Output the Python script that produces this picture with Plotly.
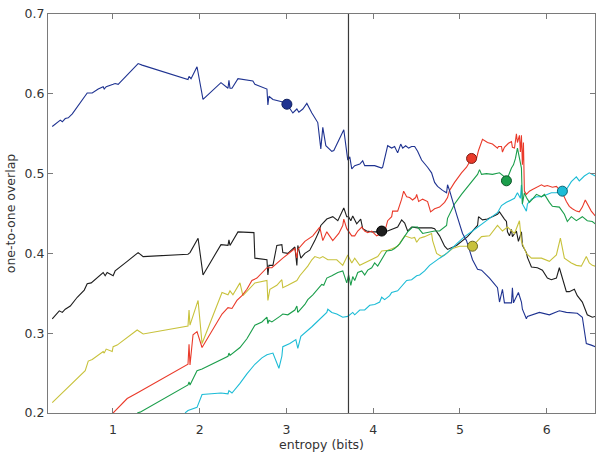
import plotly.graph_objects as go

# ---------------- data ----------------
blue_x = [0.301,0.394,0.417,0.451,0.486,0.532,0.704,0.762,0.831,0.888,0.900,0.923,1.003,1.026,1.061,1.291,1.337,1.866,1.878,1.901,1.970,2.039,2.246,2.327,2.338,2.350,2.373,2.442,2.614,2.637,2.776,2.787,2.799,2.845,2.948,3.006,3.075,3.121,3.144,3.190,3.236,3.294,3.362,3.397,3.420,3.455,3.524,3.547,3.662,3.696,3.708,3.731,3.754,3.788,3.846,3.880,3.903,3.961,4.018,4.099,4.110,4.168,4.214,4.248,4.283,4.318,4.341,4.375,4.410,4.444,4.479,4.513,4.559,4.628,4.674,4.709,4.743,4.801,4.847,4.858,4.881,4.962,5.031,5.077,5.146,5.204,5.250,5.342,5.434,5.457,5.491,5.514,5.595,5.606,5.618,5.675,5.710,5.721,5.767,5.779,5.917,6.032,6.147,6.228,6.354,6.412,6.458,6.515,6.561]
blue_y = [0.559,0.567,0.565,0.569,0.570,0.575,0.601,0.601,0.606,0.609,0.606,0.609,0.612,0.613,0.612,0.638,0.636,0.618,0.622,0.619,0.634,0.593,0.614,0.607,0.617,0.607,0.607,0.619,0.616,0.612,0.606,0.586,0.597,0.593,0.590,0.587,0.576,0.581,0.577,0.581,0.588,0.576,0.564,0.531,0.558,0.535,0.528,0.529,0.555,0.523,0.517,0.521,0.506,0.510,0.512,0.516,0.510,0.510,0.510,0.507,0.508,0.535,0.532,0.534,0.526,0.537,0.532,0.535,0.532,0.534,0.534,0.528,0.517,0.508,0.501,0.489,0.484,0.479,0.476,0.486,0.479,0.449,0.425,0.416,0.392,0.380,0.379,0.369,0.357,0.339,0.355,0.338,0.338,0.357,0.338,0.351,0.339,0.330,0.318,0.321,0.326,0.323,0.328,0.326,0.325,0.320,0.287,0.285,0.283]

black_x = [0.301,0.382,0.417,0.451,0.509,0.589,0.670,0.704,0.750,0.831,0.888,0.911,0.934,1.003,1.026,1.165,1.291,1.349,1.866,1.889,1.982,2.039,2.246,2.327,2.338,2.350,2.442,2.626,2.637,2.776,2.787,2.799,2.845,2.890,2.948,2.959,3.017,3.098,3.121,3.132,3.167,3.213,3.270,3.328,3.374,3.397,3.466,3.535,3.593,3.662,3.696,3.718,3.743,3.765,3.811,3.857,3.880,3.926,3.984,4.041,4.099,4.168,4.225,4.283,4.329,4.364,4.398,4.444,4.513,4.594,4.674,4.709,4.766,4.824,4.858,4.962,5.088,5.204,5.215,5.261,5.319,5.434,5.457,5.514,5.537,5.549,5.572,5.595,5.606,5.652,5.675,5.710,5.721,5.767,5.779,5.825,5.894,5.952,6.009,6.055,6.113,6.147,6.182,6.228,6.262,6.320,6.354,6.412,6.469,6.527,6.561]
black_y = [0.318,0.328,0.326,0.330,0.334,0.345,0.354,0.362,0.363,0.371,0.376,0.372,0.376,0.372,0.378,0.390,0.401,0.396,0.399,0.401,0.419,0.373,0.411,0.410,0.417,0.410,0.427,0.426,0.394,0.392,0.373,0.385,0.385,0.410,0.411,0.401,0.400,0.408,0.385,0.410,0.394,0.400,0.404,0.416,0.427,0.435,0.443,0.446,0.441,0.457,0.446,0.446,0.441,0.447,0.437,0.443,0.431,0.428,0.427,0.427,0.428,0.428,0.430,0.433,0.442,0.438,0.428,0.433,0.432,0.432,0.432,0.431,0.422,0.409,0.405,0.410,0.421,0.435,0.446,0.442,0.443,0.449,0.452,0.443,0.440,0.427,0.422,0.430,0.421,0.428,0.415,0.427,0.410,0.401,0.395,0.383,0.382,0.379,0.369,0.367,0.369,0.382,0.369,0.352,0.352,0.355,0.347,0.339,0.323,0.320,0.321]

yellow_x = [0.301,0.532,0.681,0.716,0.762,0.888,0.900,0.923,0.992,1.003,1.049,1.280,1.349,1.866,1.878,1.889,1.982,2.028,2.258,2.327,2.350,2.384,2.465,2.499,2.580,2.637,2.776,2.787,2.810,2.890,2.948,2.959,3.017,3.121,3.155,3.247,3.294,3.328,3.385,3.420,3.478,3.524,3.581,3.650,3.708,3.754,3.788,3.846,3.903,3.984,4.053,4.099,4.168,4.225,4.283,4.364,4.444,4.479,4.502,4.536,4.594,4.674,4.686,4.732,4.790,4.847,4.916,4.997,5.077,5.146,5.250,5.342,5.434,5.491,5.549,5.630,5.687,5.710,5.767,5.825,5.941,6.032,6.113,6.159,6.205,6.285,6.343,6.400,6.458,6.492,6.527,6.561]
yellow_y = [0.213,0.237,0.253,0.265,0.267,0.277,0.275,0.280,0.277,0.283,0.285,0.304,0.299,0.309,0.329,0.310,0.341,0.287,0.351,0.348,0.353,0.348,0.363,0.347,0.357,0.363,0.366,0.341,0.355,0.360,0.367,0.357,0.360,0.366,0.372,0.384,0.392,0.396,0.394,0.396,0.392,0.392,0.392,0.385,0.398,0.388,0.394,0.385,0.388,0.392,0.396,0.403,0.404,0.406,0.409,0.422,0.419,0.420,0.414,0.419,0.421,0.425,0.416,0.400,0.396,0.400,0.406,0.409,0.409,0.409,0.421,0.422,0.435,0.428,0.433,0.425,0.441,0.415,0.400,0.394,0.394,0.390,0.398,0.419,0.394,0.388,0.385,0.384,0.396,0.388,0.385,0.384]

red_x = [1.003,1.165,1.280,1.866,1.878,1.889,1.924,1.970,2.028,2.200,2.258,2.327,2.373,2.430,2.488,2.545,2.603,2.660,2.776,2.833,2.890,2.959,3.098,3.121,3.132,3.213,3.305,3.385,3.420,3.466,3.535,3.604,3.650,3.662,3.696,3.754,3.788,3.823,3.869,3.903,3.938,3.984,4.041,4.099,4.133,4.168,4.214,4.225,4.283,4.329,4.352,4.387,4.421,4.455,4.490,4.502,4.525,4.571,4.628,4.663,4.709,4.766,4.824,4.858,4.881,4.939,5.019,5.077,5.135,5.192,5.215,5.261,5.319,5.376,5.434,5.445,5.480,5.491,5.514,5.560,5.595,5.606,5.630,5.652,5.664,5.687,5.698,5.710,5.721,5.733,5.744,5.767,5.802,5.837,5.894,5.941,5.975,6.009,6.067,6.113,6.147,6.182,6.228,6.262,6.297,6.343,6.377,6.412,6.446,6.469,6.515,6.561]
red_y = [0.200,0.218,0.225,0.261,0.286,0.260,0.298,0.302,0.282,0.314,0.324,0.332,0.331,0.341,0.347,0.355,0.366,0.369,0.382,0.382,0.388,0.394,0.406,0.394,0.405,0.415,0.422,0.433,0.416,0.427,0.416,0.425,0.435,0.443,0.431,0.422,0.422,0.428,0.433,0.428,0.426,0.428,0.422,0.425,0.427,0.441,0.446,0.453,0.453,0.468,0.478,0.471,0.470,0.467,0.470,0.474,0.465,0.468,0.465,0.452,0.456,0.458,0.464,0.470,0.479,0.489,0.501,0.508,0.519,0.519,0.529,0.543,0.539,0.537,0.532,0.534,0.534,0.527,0.533,0.538,0.540,0.533,0.532,0.550,0.539,0.548,0.527,0.548,0.511,0.539,0.478,0.474,0.478,0.480,0.483,0.486,0.484,0.485,0.483,0.484,0.480,0.476,0.465,0.459,0.456,0.453,0.452,0.458,0.467,0.462,0.453,0.447]

green_x = [1.280,1.314,1.866,1.878,1.889,1.970,2.028,2.327,2.338,2.350,2.465,2.545,2.637,2.718,2.776,2.787,2.799,2.833,2.925,2.959,3.017,3.098,3.121,3.132,3.213,3.247,3.305,3.362,3.408,3.431,3.466,3.524,3.593,3.650,3.696,3.718,3.743,3.765,3.788,3.823,3.869,3.903,3.938,3.984,4.018,4.053,4.110,4.156,4.214,4.248,4.306,4.364,4.398,4.455,4.513,4.571,4.651,4.709,4.766,4.801,4.847,4.858,4.939,5.019,5.112,5.204,5.227,5.250,5.307,5.376,5.457,5.514,5.537,5.572,5.595,5.618,5.641,5.664,5.687,5.710,5.721,5.744,5.767,5.802,5.837,5.883,5.941,5.975,6.032,6.067,6.147,6.205,6.239,6.285,6.343,6.412,6.469,6.527,6.561]
green_y = [0.200,0.201,0.235,0.239,0.235,0.253,0.255,0.271,0.275,0.272,0.282,0.293,0.310,0.314,0.320,0.312,0.316,0.314,0.321,0.324,0.323,0.329,0.334,0.326,0.336,0.342,0.348,0.355,0.361,0.360,0.369,0.372,0.376,0.378,0.363,0.373,0.360,0.371,0.366,0.376,0.378,0.373,0.379,0.382,0.388,0.384,0.394,0.403,0.404,0.406,0.412,0.422,0.427,0.433,0.433,0.425,0.427,0.428,0.428,0.431,0.435,0.444,0.462,0.474,0.486,0.499,0.505,0.499,0.500,0.499,0.501,0.496,0.491,0.501,0.507,0.511,0.519,0.532,0.521,0.507,0.462,0.476,0.470,0.464,0.468,0.474,0.471,0.474,0.464,0.459,0.458,0.449,0.440,0.446,0.441,0.446,0.441,0.440,0.437]

cyan_x = [1.832,1.866,1.970,2.028,2.246,2.327,2.338,2.373,2.465,2.545,2.637,2.718,2.776,2.845,2.914,2.948,2.959,3.040,3.109,3.132,3.167,3.236,3.294,3.351,3.408,3.466,3.478,3.524,3.581,3.650,3.708,3.765,3.788,3.846,3.903,3.961,4.018,4.076,4.099,4.133,4.191,4.214,4.283,4.341,4.387,4.444,4.502,4.536,4.594,4.651,4.709,4.766,4.824,4.858,4.962,5.054,5.146,5.227,5.307,5.434,5.480,5.537,5.595,5.630,5.664,5.698,5.710,5.721,5.767,5.779,5.825,5.883,5.941,5.998,6.055,6.113,6.182,6.228,6.285,6.343,6.377,6.435,6.492,6.527,6.561]
cyan_y = [0.200,0.203,0.207,0.223,0.225,0.224,0.228,0.225,0.237,0.249,0.261,0.269,0.273,0.275,0.256,0.271,0.283,0.287,0.292,0.281,0.296,0.302,0.308,0.314,0.320,0.326,0.330,0.326,0.324,0.320,0.321,0.326,0.323,0.329,0.329,0.335,0.336,0.339,0.345,0.342,0.347,0.351,0.353,0.360,0.366,0.367,0.372,0.373,0.378,0.385,0.390,0.394,0.398,0.401,0.412,0.421,0.428,0.435,0.441,0.451,0.460,0.464,0.467,0.469,0.476,0.469,0.486,0.462,0.453,0.462,0.468,0.471,0.471,0.474,0.476,0.476,0.478,0.480,0.490,0.496,0.491,0.497,0.501,0.499,0.497]

# highlighted points (one per series)
mark_x = [3.006, 4.099, 5.146, 5.135, 5.537, 6.182]
mark_y = [0.587, 0.428, 0.409, 0.519, 0.491, 0.478]

threshold_x = 3.716

x_ticks = [1, 2, 3, 4, 5, 6]
y_ticks = [0.2, 0.3, 0.4, 0.5, 0.6, 0.7]

# ---------------- styles ----------------
series = [
    ("blue", blue_x, blue_y, "#1f3391", "#10205e"),
    ("black", black_x, black_y, "#1e1e1e", "#000000"),
    ("yellow", yellow_x, yellow_y, "#c8c23c", "#6b6820"),
    ("red", red_x, red_y, "#ea3a2a", "#7a1c14"),
    ("green", green_x, green_y, "#1b9e4b", "#0d5528"),
    ("cyan", cyan_x, cyan_y, "#1cbcd6", "#0d6473"),
]

fig = go.Figure()
draw_order = [1, 2, 5, 4, 3, 0]
for i in draw_order:
    name, xs, ys, col, dark = series[i]
    fig.add_trace(go.Scatter(x=xs, y=ys, mode="lines",
                             line=dict(color=col, width=1.1),
                             showlegend=False, hoverinfo="skip"))
for i in draw_order:
    name, xs, ys, col, dark = series[i]
    fig.add_trace(go.Scatter(x=[mark_x[i]], y=[mark_y[i]], mode="markers",
                             marker=dict(color=col, size=10,
                                         line=dict(color=dark, width=1)),
                             showlegend=False, hoverinfo="skip"))

fig.add_shape(type="line", xref="x", yref="paper", x0=threshold_x, x1=threshold_x,
              y0=0, y1=1, line=dict(color="#3a3a3a", width=1.2), layer="above")

axis_common = dict(showgrid=False, zeroline=False, showline=True, mirror="ticks",
                   linecolor="#7a7a7a", linewidth=1.2, ticks="inside", ticklen=5,
                   tickcolor="#7a7a7a", tickwidth=1, ticklabeloverflow="allow",
                   tickfont=dict(family="DejaVu Sans", size=12.5, color="#333333"))

fig.update_layout(
    width=602, height=456,
    margin=dict(l=48, r=6, t=7, b=43),
    paper_bgcolor="white", plot_bgcolor="white",
    font=dict(family="DejaVu Sans", size=12.5, color="#333333"),
    xaxis=dict(range=[0.252, 6.558], tickvals=x_ticks, ticktext=[str(v) for v in x_ticks],
               ticklabelstandoff=5,
               title=dict(text="entropy (bits)", font=dict(size=12.5, color="#333333"), standoff=4),
               **axis_common),
    yaxis=dict(range=[0.1999, 0.7001], tickvals=y_ticks, ticktext=[f"{v:.1f}" for v in y_ticks],
               title=dict(text="one-to-one overlap", font=dict(size=12.5, color="#333333"), standoff=6),
               **axis_common),
)

fig.write_html("out.html")
